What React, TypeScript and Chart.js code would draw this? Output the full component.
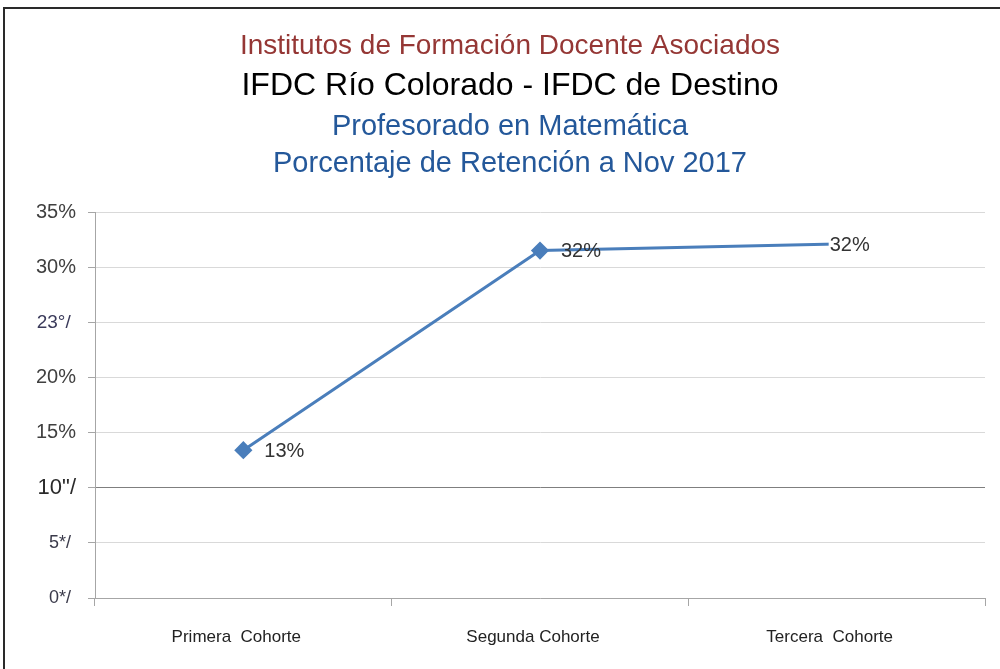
import React, { useEffect, useRef } from "react";
import { Chart, registerables } from "chart.js";

Chart.register(...registerables);

const categories = ["Primera  Cohorte", "Segunda Cohorte", "Tercera  Cohorte"];
const retention = [13.4, 31.5, 32.1];
const valueLabels = ["13%", "32%", "32%"];
const yTickValues = [0, 5, 10, 15, 20, 25, 30, 35];
const yTickLabels = ["0*/ ", "5*/ ", "10\"/", "15%", "20%", "23°/ ", "30%", "35%"];
const titleLines = [
  "Institutos de Formación Docente Asociados",
  "IFDC Río Colorado - IFDC de Destino",
  "Profesorado en Matemática",
  "Porcentaje de Retención a Nov 2017",
];

const SANS = "'Liberation Sans', Arial, sans-serif";

const titleStyle = [
  { size: 28, color: "#953735", y: 46 },
  { size: 32, color: "#000000", y: 86 },
  { size: 29, color: "#24589a", y: 127 },
  { size: 29, color: "#24589a", y: 164 },
];
const yTickStyle = [
  { size: 18, color: "#3a3a4a" },
  { size: 18, color: "#3a3a4a" },
  { size: 22, color: "#2a2a2a" },
  { size: 20, color: "#404040" },
  { size: 20, color: "#404040" },
  { size: 19, color: "#3a3a5a" },
  { size: 20, color: "#404040" },
  { size: 20, color: "#404040" },
];
const labelOffsets = [
  { dx: 21, dy: 1, bg: false },
  { dx: 21, dy: 1, bg: false },
  { dx: -7, dy: 2, bg: true },
];

const titlePlugin = {
  id: "multiTitle",
  afterDraw(chart: any) {
    const ctx = chart.ctx;
    ctx.save();
    ctx.textAlign = "center";
    ctx.textBaseline = "middle";
    titleLines.forEach((t, i) => {
      const s = titleStyle[i];
      ctx.font = `${s.size}px ${SANS}`;
      ctx.fillStyle = s.color;
      ctx.fillText(t, 510, s.y);
    });
    ctx.restore();
  },
};

const valueLabelPlugin = {
  id: "valueLabels",
  afterDatasetsDraw(chart: any) {
    const ctx = chart.ctx;
    const meta = chart.getDatasetMeta(0);
    ctx.save();
    ctx.font = `20px ${SANS}`;
    ctx.textBaseline = "middle";
    ctx.textAlign = "left";
    meta.data.forEach((pt: any, i: number) => {
      const o = labelOffsets[i];
      const x = pt.x + o.dx;
      const y = pt.y + o.dy;
      if (o.bg) {
        const w = ctx.measureText(valueLabels[i]).width;
        ctx.fillStyle = "#ffffff";
        ctx.fillRect(x - 1, y - 11, w + 6, 22);
      }
      ctx.fillStyle = "#333333";
      ctx.fillText(valueLabels[i], x, y);
    });
    ctx.restore();
  },
};

export default function App() {
  const ref = useRef<HTMLCanvasElement>(null);

  useEffect(() => {
    if (!ref.current) return;
    const chart = new Chart(ref.current, {
      type: "line",
      data: {
        labels: categories,
        datasets: [
          {
            data: retention,
            borderColor: "#4a7ebb",
            backgroundColor: "#4a7ebb",
            borderWidth: 3,
            pointStyle: "rectRot",
            pointRadius: [7, 7, 0],
            pointHoverRadius: [7, 7, 0],
            tension: 0,
          },
        ],
      },
      options: {
        responsive: false,
        animation: false,
        devicePixelRatio: 1,
        layout: { padding: { top: 212, right: 15, left: 0, bottom: 0 } },
        plugins: {
          legend: { display: false },
          tooltip: { enabled: false },
          title: { display: false },
        },
        scales: {
          x: {
            offset: true,
            grid: {
              offset: true,
              drawOnChartArea: false,
              tickLength: 8,
              color: "#a6a6a6",
            },
            border: { color: "#a6a6a6", width: 1 },
            ticks: {
              padding: 21,
              labelOffset: -7,
              color: "#222222",
              font: { size: 17, family: SANS },
              maxRotation: 0,
            },
            afterFit(scale: any) {
              scale.height = 71;
            },
          },
          y: {
            min: 0,
            max: 35,
            afterBuildTicks(scale: any) {
              scale.ticks = yTickValues.map((v) => ({ value: v }));
            },
            grid: {
              color: (c: any) => (c.tick && c.tick.value === 10 ? "#7f7f7f" : "#d9d9d9"),
              tickColor: "#a6a6a6",
              tickLength: 7,
            },
            border: { color: "#a6a6a6", width: 1 },
            ticks: {
              padding: 12,
              callback: (_v: any, i: number) => yTickLabels[i],
              color: (c: any) => yTickStyle[c.index]?.color ?? "#404040",
              font: (c: any) => ({ size: yTickStyle[c.index]?.size ?? 20, family: SANS }),
            },
            afterFit(scale: any) {
              scale.width = 95;
            },
          },
        },
      },
      plugins: [titlePlugin, valueLabelPlugin],
    } as any);
    return () => chart.destroy();
  }, []);

  return (
    <div
      style={{
        position: "fixed",
        left: 0,
        top: 0,
        width: 1000,
        height: 669,
        background: "#ffffff",
        overflow: "hidden",
      }}
    >
      <canvas ref={ref} width={1000} height={669} style={{ position: "absolute", left: 0, top: 0 }} />
      <div
        style={{
          position: "absolute",
          left: 3,
          top: 7,
          width: 1000,
          height: 700,
          borderTop: "2px solid #2a2a2a",
          borderLeft: "2px solid #2a2a2a",
          pointerEvents: "none",
        }}
      />
    </div>
  );
}
